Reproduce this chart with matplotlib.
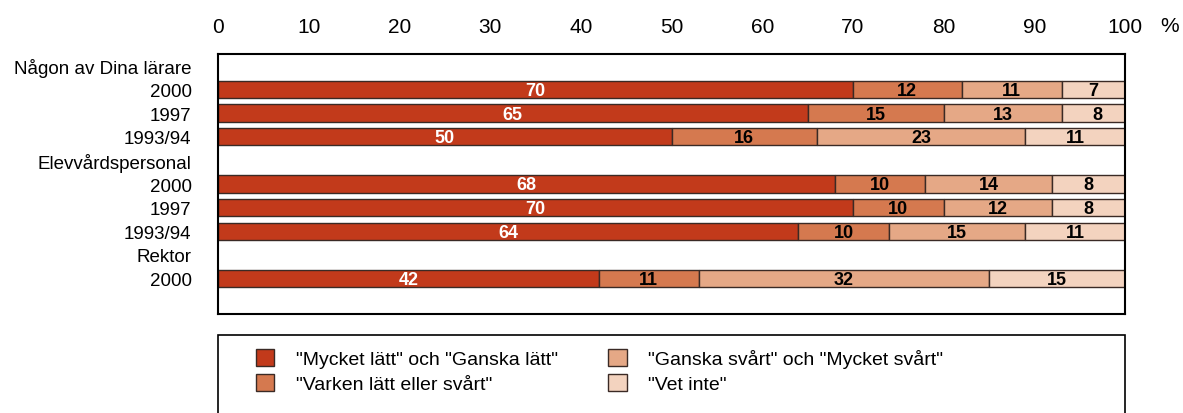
import matplotlib
matplotlib.use("Agg")
import matplotlib.pyplot as plt
from matplotlib.patches import Rectangle, Patch
import numpy as np

plt.rcParams['font.family'] = ['Liberation Sans', 'DejaVu Sans']

row_labels = ["Någon av Dina lärare", "2000", "1997", "1993/94",
              "Elevvårdspersonal", "2000", "1997", "1993/94",
              "Rektor", "2000", ""]
# None = header row without bar
easy   = [None, 70, 65, 50, None, 68, 70, 64, None, 42, None]
neither = [None, 12, 15, 16, None, 10, 10, 10, None, 11, None]
hard   = [None, 11, 13, 23, None, 14, 12, 15, None, 32, None]
dontknow = [None, 7, 8, 11, None, 8, 8, 11, None, 15, None]

series_names = ['"Mycket lätt" och "Ganska lätt"',
                '"Varken lätt eller svårt"',
                '"Ganska svårt" och "Mycket svårt"',
                '"Vet inte"']
colors = ["#C23A1B", "#D5794F", "#E5A886", "#F3D3BF"]
text_colors = ["white", "black", "black", "black"]
ticks = [0, 10, 20, 30, 40, 50, 60, 70, 80, 90, 100]
tick_labels = ["0", "10", "20", "30", "40", "50", "60", "70", "80", "90", "100"]

fig = plt.figure(figsize=(11.83, 4.14), dpi=100)
ax = fig.add_axes([218/1183, 1-315/414, 907/1183, 260/414])

n = len(row_labels)
y = np.arange(n)
series = [easy, neither, hard, dontknow]
left = np.zeros(n)
for s, col, tc in zip(series, colors, text_colors):
    for i in range(n):
        v = s[i]
        if v is None:
            continue
        ax.barh(y[i], v, left=left[i], height=0.74, color=col,
                edgecolor="#3a2a25", linewidth=1.0, zorder=2)
        ax.text(left[i] + v/2, y[i] + 0.04, str(v), ha="center", va="center",
                color=tc, fontsize=13, fontweight="bold", zorder=3)
        left[i] += v

ax.set_xlim(0, 100)
ax.set_ylim(n - 0.5, -0.5)
ax.set_yticks(y)
ax.set_yticklabels(row_labels, fontsize=13.5)
ax.set_xticks(ticks)
ax.set_xticklabels(tick_labels, fontsize=15)
ax.xaxis.tick_top()
ax.tick_params(axis="x", length=0, pad=13)
ax.tick_params(axis="y", length=0, pad=19)
ax.annotate("%", xy=(1.0, 1.0), xycoords="axes fraction",
            xytext=(32, 20.5), textcoords="offset points",
            ha="center", va="center", fontsize=15)
for sp in ax.spines.values():
    sp.set_linewidth(1.5)
    sp.set_color("black")

# legend frame
fig.patches.append(Rectangle((218/1183, -0.1), 907/1183, 1-336/414 + 0.1,
                             transform=fig.transFigure, fill=False,
                             edgecolor="black", linewidth=1.2))
handles = [Patch(facecolor=c, edgecolor="#3a2a25", linewidth=1.0) for c in colors]
leg = fig.legend(handles, series_names,
                 ncol=2, loc="upper left",
                 bbox_to_anchor=(256/1183, 1-350/414), frameon=False,
                 fontsize=14, handlelength=0.95, handleheight=0.95,
                 handletextpad=1.1, columnspacing=2.6, labelspacing=0.3,
                 borderpad=0, borderaxespad=0)

fig.savefig("out.png", dpi=100)
